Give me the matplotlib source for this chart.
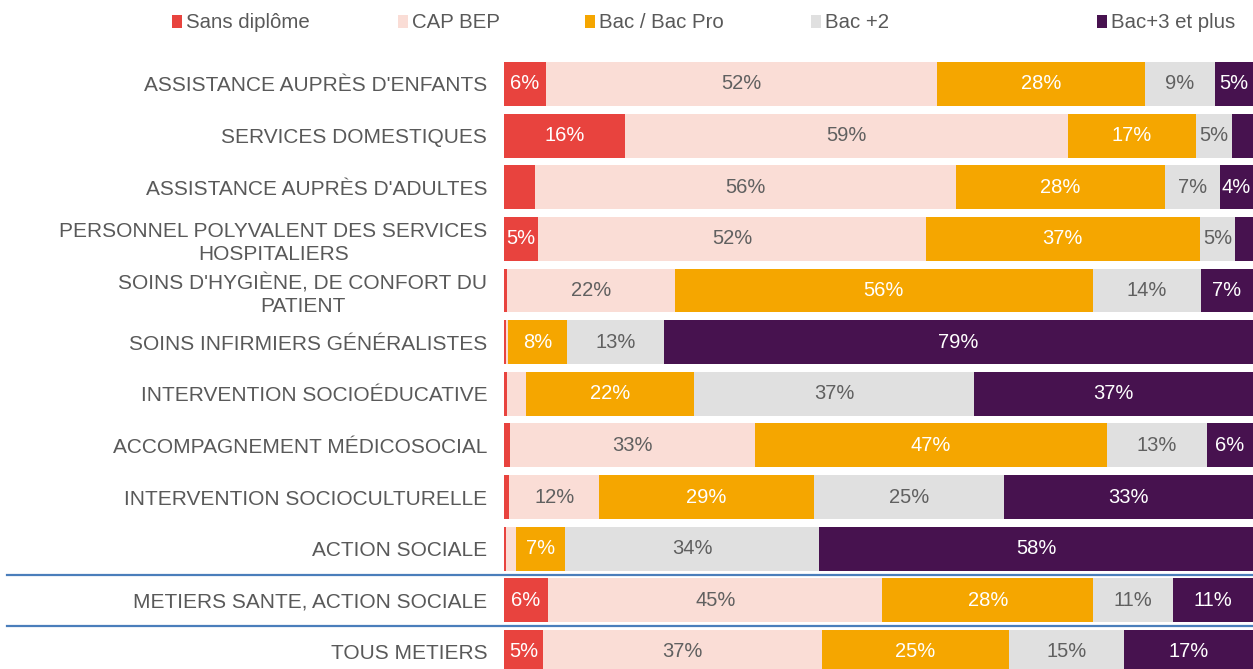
import numpy as np
import matplotlib.pyplot as plt
from matplotlib.patches import Rectangle

plt.rcParams['font.family'] = ['Liberation Sans', 'DejaVu Sans']

metiers = ["ASSISTANCE AUPRÈS D'ENFANTS",
           "SERVICES DOMESTIQUES",
           "ASSISTANCE AUPRÈS D'ADULTES",
           "PERSONNEL POLYVALENT DES SERVICES\nHOSPITALIERS",
           "SOINS D'HYGIÈNE, DE CONFORT DU\nPATIENT",
           "SOINS INFIRMIERS GÉNÉRALISTES",
           "INTERVENTION SOCIOÉDUCATIVE",
           "ACCOMPAGNEMENT MÉDICOSOCIAL",
           "INTERVENTION SOCIOCULTURELLE",
           "ACTION SOCIALE",
           "METIERS SANTE, ACTION SOCIALE",
           "TOUS METIERS"]

diplomes = ["Sans diplôme", "CAP BEP", "Bac / Bac Pro", "Bac +2", "Bac+3 et plus"]

sans_diplome = [5.6, 16.2, 4.2, 4.6, 0.4, 0.3, 0.4, 0.8, 0.7, 0.3, 5.9, 5.2]
cap_bep      = [52.2, 59.1, 56.2, 51.7, 22.4, 0.2, 2.6, 32.7, 12.0, 1.3, 44.6, 37.2]
bac          = [27.8, 17.1, 27.8, 36.6, 55.8, 7.9, 22.4, 47.0, 28.7, 6.6, 28.2, 25.0]
bac2         = [9.3, 4.8, 7.4, 4.7, 14.4, 12.9, 37.3, 13.3, 25.3, 33.9, 10.6, 15.4]
bac3         = [5.1, 2.8, 4.4, 2.4, 7.0, 78.7, 37.3, 6.2, 33.3, 57.9, 10.7, 17.2]

series = [sans_diplome, cap_bep, bac, bac2, bac3]
couleurs = ['#E8433E', '#FADDD6', '#F5A600', '#E0E0E0', '#47124F']
couleurs_txt = ['white', '#606060', 'white', '#606060', 'white']
gris = '#595959'

W, H = 1253, 669
fig = plt.figure(figsize=(W / 100, H / 100), dpi=100)
ax = fig.add_axes([504 / W, 0, 749 / W, (H - 50) / H])

y = np.arange(len(metiers))
left = np.zeros(len(metiers))
for s, c, tc in zip(series, couleurs, couleurs_txt):
    v = np.array(s)
    ax.barh(y, v, left=left, height=0.85, color=c, linewidth=0)
    for yi, (l, val) in enumerate(zip(left, v)):
        if val >= 4.3:
            ax.text(l + val / 2, yi, f"{round(val)}%", ha='center', va='center',
                    color=tc, fontsize=14.5)
    left += v

ax.set_xlim(0, 100)
ax.set_ylim(11.33, -0.658)
ax.set_yticks(y)
ax.set_yticklabels(metiers, fontsize=15, color=gris, ha='right',
                   multialignment='center', linespacing=1.25)
ax.tick_params(axis='y', length=0, pad=12)
ax.set_xticks([])
for sp in ax.spines.values():
    sp.set_visible(False)

# séparateurs bleus
trans = ax.get_yaxis_transform()
for yl in [9.5, 10.5]:
    ax.plot([(7 - 504) / 749, 1], [yl, yl], transform=trans, color='#4A7EBB',
            linewidth=1.6, clip_on=False)

# légende
leg_x = [172, 398, 585, 811, 1097]
for lx, nom, c in zip(leg_x, diplomes, couleurs):
    fig.add_artist(Rectangle((lx / W, 1 - 28 / H), 10 / W, 13 / H,
                             transform=fig.transFigure, color=c, linewidth=0))
    fig.text((lx + 14) / W, 1 - 22 / H, nom, fontsize=14.7, color=gris,
             ha='left', va='center')

plt.savefig('out.png', dpi=100)
